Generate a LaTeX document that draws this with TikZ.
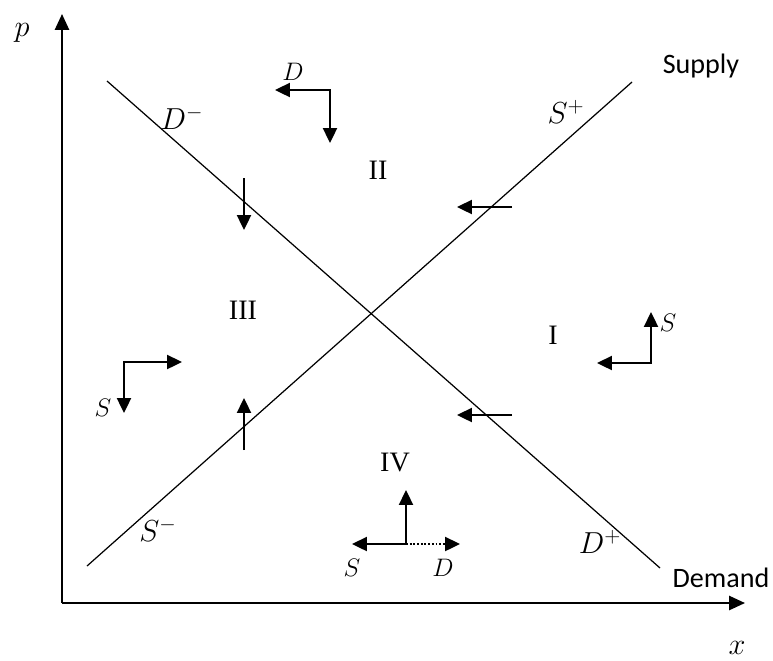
\documentclass[tikz,border=0pt]{standalone}
\usepackage{fontspec}
\usepackage{amsmath}
\setmainfont{Liberation Serif}
\newfontfamily\wordfont{Carlito}
\usetikzlibrary{arrows.meta}

\begin{document}
\begin{tikzpicture}[x=0.02cm, y=-0.02cm,
  font=\fontsize{16}{19}\selectfont,
  axis/.style={-{Triangle[length=9pt,width=8pt]}, line width=1.2pt},
  curve/.style={line width=0.7pt},
  move/.style={-{Triangle[length=8.5pt,width=8pt]}, line width=1.1pt},
  turn/.style={{Triangle[length=8.5pt,width=8pt]}-{Triangle[length=8.5pt,width=8pt]}, line width=1.1pt},
  word/.style={font=\wordfont\fontsize{16}{19}\selectfont},
  big/.style={font=\fontsize{17}{20}\selectfont},
  tag/.style={font=\fontsize{15}{17}\selectfont, inner sep=1pt}]
\useasboundingbox (0,0) rectangle (773,660);
% axes
\coordinate (o) at (62,603);
\coordinate (ytip) at (62,14);
\coordinate (xtip) at (745,603);
\draw[axis] (o) -- (ytip);
\draw[axis] (o) -- (xtip);
\node[font=\fontsize{19}{22}\selectfont] (plab) at (22,33) {$p$};
\node[font=\fontsize{19}{22}\selectfont] (xlab) at (737,648) {$x$};
% demand and supply
\coordinate (dA) at (107,81);
\coordinate (dB) at (660,568);
\coordinate (sA) at (87,566);
\coordinate (sB) at (632,82);
\draw[curve] (dA) -- (dB);
\draw[curve] (sA) -- (sB);
\node[word] (supply) at (701,66) {Supply};
\node[word] (demand) at (721,578) {Demand};
\node[big] (dminus) at (182,118) {$D^-$};
\node[big] (dplus) at (600,542) {$D^+$};
\node[big] (splus) at (566,112) {$S^+$};
\node[big] (sminus) at (158,530) {$S^-$};
% regions
\node (r1) at (553,335) {I};
\node (r2) at (378,170) {II};
\node (r3) at (243,310) {III};
\node (r4) at (395,462) {IV};
% region II
\coordinate (c2) at (330,90);
\coordinate (c2l) at (275,90);
\coordinate (c2d) at (330,143);
\draw[turn] (c2l) -- (c2) -- (c2d);
\node[tag] (c2lab) at (293,72) {$D$};
% region I
\coordinate (c1) at (651,363);
\coordinate (c1l) at (597,363);
\coordinate (c1u) at (651,312);
\draw[turn] (c1l) -- (c1) -- (c1u);
\node[tag] (c1lab) at (668,323) {$S$};
% region III
\coordinate (c3) at (124,362);
\coordinate (c3r) at (182,362);
\coordinate (c3d) at (124,413);
\draw[turn] (c3r) -- (c3) -- (c3d);
\node[tag] (c3lab) at (103,408) {$S$};
% region IV
\coordinate (c4) at (406,544);
\coordinate (c4l) at (352,544);
\coordinate (c4r) at (460,544);
\coordinate (c4u) at (406,490);
\draw[move] (c4) -- (c4l);
\draw[move] (c4) -- (c4u);
\draw[move, densely dotted] (c4) -- (c4r);
\node[tag] (c4s) at (352,568) {$S$};
\node[tag] (c4d) at (443,568) {$D$};
% moves across the lines
\coordinate (m1a) at (244,178);
\coordinate (m1b) at (244,230);
\draw[move] (m1a) -- (m1b);
\coordinate (m2a) at (244,450);
\coordinate (m2b) at (244,398);
\draw[move] (m2a) -- (m2b);
\coordinate (m3a) at (512,207);
\coordinate (m3b) at (457,207);
\draw[move] (m3a) -- (m3b);
\coordinate (m4a) at (512,415);
\coordinate (m4b) at (457,415);
\draw[move] (m4a) -- (m4b);
\end{tikzpicture}
\end{document}
